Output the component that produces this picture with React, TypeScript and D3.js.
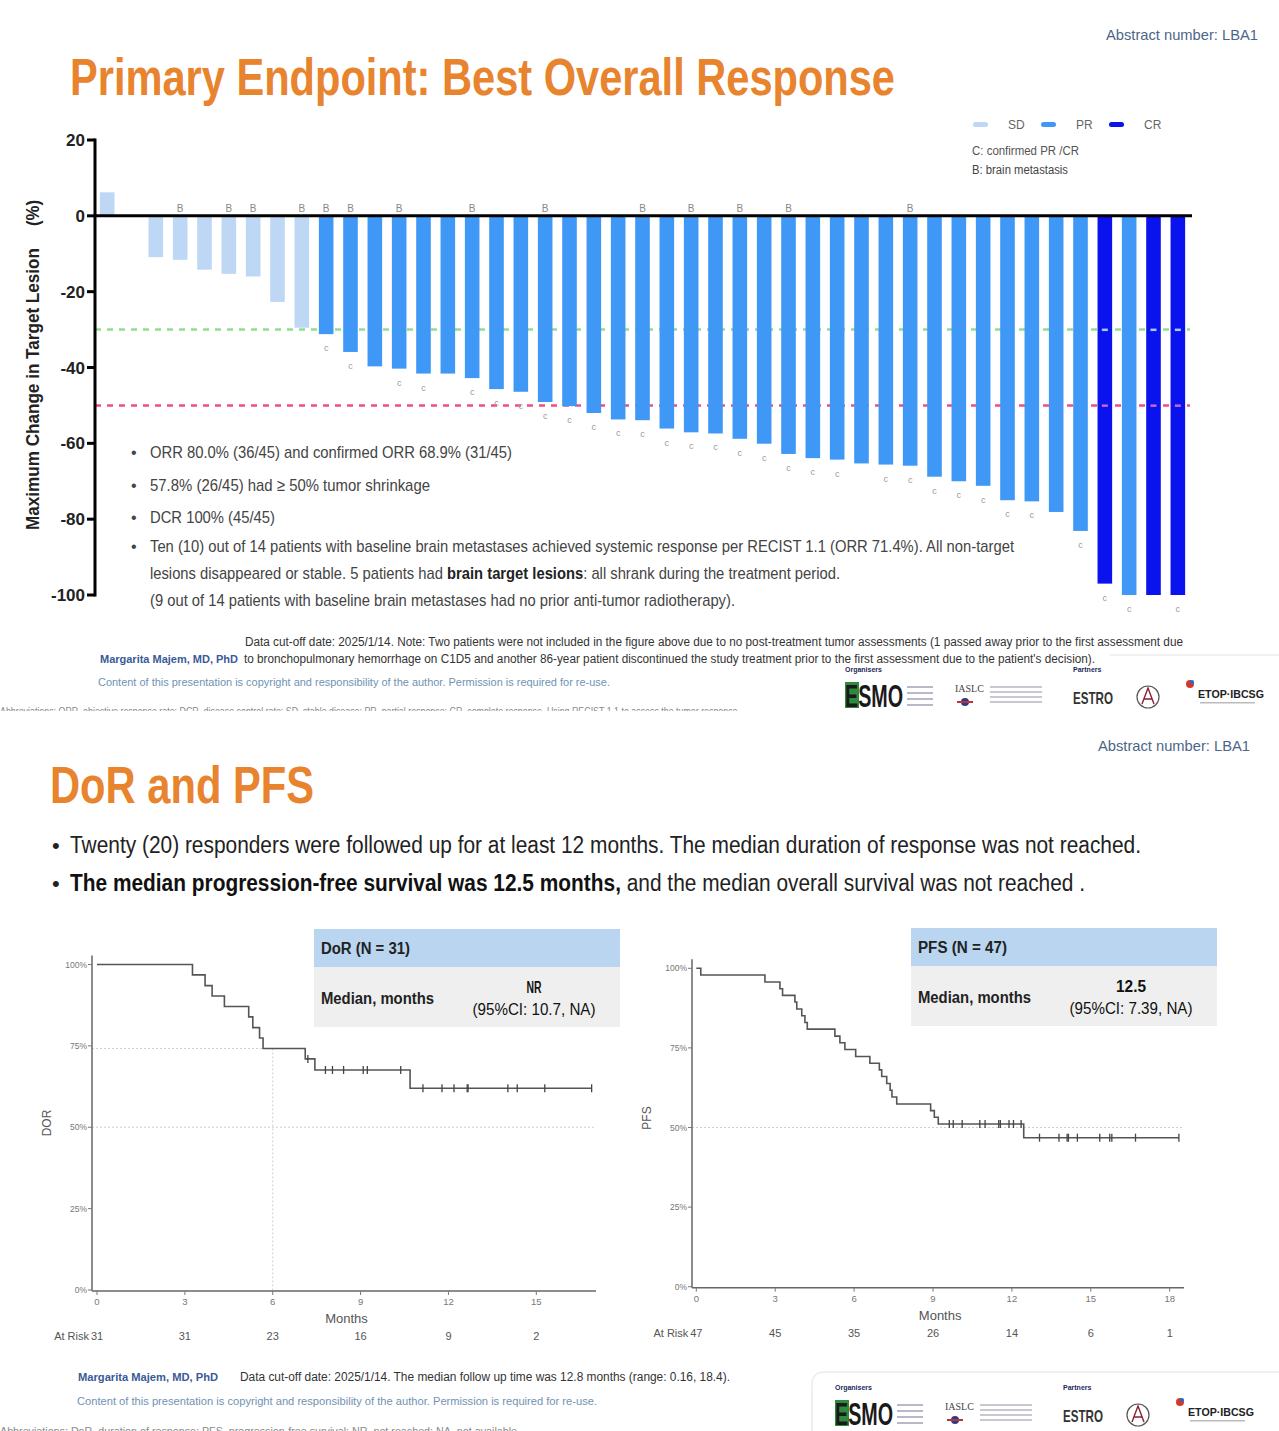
import React from "react";
import * as d3 from "d3";

// ---------- waterfall data (best % change from baseline, one entry per patient) ----------
const changes = [
  6.2, 0, -10.9, -11.6, -14.2, -15.3, -16.0, -22.7, -29.5,
  -31.2, -35.9, -39.7, -40.3, -41.6, -41.6, -42.8, -45.7, -46.4, -49.1,
  -50.2, -52.0, -53.7, -53.9, -56.1, -57.1, -57.4, -58.8, -60.1, -62.8,
  -63.9, -64.3, -65.3, -65.6, -65.9, -68.8, -70.0, -71.2, -75.0, -75.3,
  -78.1, -83.1, -97.0, -100, -100, -100,
];
const responses = [
  "SD", "SD", "SD", "SD", "SD", "SD", "SD", "SD", "SD",
  "PR", "PR", "PR", "PR", "PR", "PR", "PR", "PR", "PR", "PR",
  "PR", "PR", "PR", "PR", "PR", "PR", "PR", "PR", "PR", "PR",
  "PR", "PR", "PR", "PR", "PR", "PR", "PR", "PR", "PR", "PR",
  "PR", "PR", "CR", "PR", "CR", "CR",
];
const confirmedIdx = [
  9, 10, 12, 13, 15, 16, 17, 18, 19, 20, 21, 22, 23, 24, 25, 26, 27, 28, 29, 30,
  32, 33, 34, 35, 36, 37, 38, 40, 41, 42, 44,
];
const brainIdx = [3, 5, 6, 8, 9, 10, 12, 15, 18, 22, 24, 26, 28, 33];
const yTicks = [20, 0, -20, -40, -60, -80, -100];
const responseColor: Record<string, string> = { SD: "#bdd7f4", PR: "#3f98f6", CR: "#0a12ee" };

// ---------- DoR ----------
const dorEventTimes = [3.26, 3.69, 3.93, 4.35, 5.18, 5.32, 5.55, 5.67, 7.11, 7.44, 10.69];
const dorSurv = [96.8, 93.5, 90.3, 87.1, 83.9, 80.6, 77.4, 74.2, 71.0, 67.6, 62.0];
const dorCensor = [7.2, 7.8, 8.04, 8.42, 9.09, 9.23, 10.37, 11.13, 11.78, 12.19, 12.64, 12.67, 14.03, 14.35, 15.29, 16.89];
const dorXTicks = [0, 3, 6, 9, 12, 15];
const dorRisk = [31, 31, 23, 16, 9, 2];

// ---------- PFS ----------
const pfsEventTimes = [
  0.17, 2.61, 3.18, 3.28, 3.75, 3.82, 4.01, 4.13, 4.22, 5.27, 5.46, 5.65,
  6.06, 6.6, 6.96, 7.05, 7.24, 7.37, 7.44, 7.62, 8.91, 9.05, 9.2, 12.45,
];
const pfsSurv = [
  97.9, 95.7, 93.6, 91.5, 89.4, 87.2, 85.1, 83.0, 80.9, 78.7, 76.6, 74.5,
  72.3, 70.2, 68.1, 66.0, 63.8, 61.7, 59.6, 57.4, 55.3, 53.2, 51.1, 46.8,
];
const pfsCensor = [
  9.62, 9.77, 10.11, 10.78, 10.98, 11.5, 11.56, 11.89, 12.06, 12.35,
  13.05, 13.79, 14.1, 14.15, 14.49, 15.34, 15.72, 15.8, 16.7, 18.35,
];
const pfsXTicks = [0, 3, 6, 9, 12, 15, 18];
const pfsRisk = [47, 45, 35, 26, 14, 6, 1];

const pctTicks = [0, 25, 50, 75, 100];

const NARROW = "'Liberation Sans Narrow','Arial Narrow','Liberation Sans',Arial,sans-serif";

type TxtProps = {
  x: number;
  y: number;
  size: number;
  w?: number;
  anchor?: "start" | "middle" | "end";
  weight?: string;
  fill?: string;
  transform?: string;
  children: React.ReactNode;
};

const Txt = ({ x, y, size, w, anchor = "start", weight = "normal", fill = "#333", transform, children }: TxtProps) => (
  <text
    x={x}
    y={y}
    fontSize={size}
    fontFamily={NARROW}
    fontWeight={weight}
    fill={fill}
    textAnchor={anchor}
    textLength={w}
    lengthAdjust={w ? "spacingAndGlyphs" : undefined}
    transform={transform}
  >
    {children}
  </text>
);

const survAt = (times: number[], surv: number[], t: number) => {
  let s = 100;
  times.forEach((et, i) => {
    if (et <= t) s = surv[i];
  });
  return s;
};

type KMProps = {
  times: number[];
  surv: number[];
  censor: number[];
  end: number;
  x: d3.ScaleLinear<number, number>;
  y: d3.ScaleLinear<number, number>;
};

const KMCurve = ({ times, surv, censor, end, x, y }: KMProps) => {
  const pts: [number, number][] = [[0, 100], ...times.map((t, i) => [t, surv[i]] as [number, number]), [end, surv[surv.length - 1]]];
  const line = d3
    .line<[number, number]>()
    .x((d) => x(d[0]))
    .y((d) => y(d[1]))
    .curve(d3.curveStepAfter);
  return (
    <g>
      <path d={line(pts) ?? ""} fill="none" stroke="#555" strokeWidth={1.6} />
      {censor.map((c, i) => {
        const cy = y(survAt(times, surv, c));
        return <line key={i} x1={x(c)} x2={x(c)} y1={cy - 4} y2={cy + 4} stroke="#444" strokeWidth={1.3} />;
      })}
    </g>
  );
};

type PanelProps = {
  x: d3.ScaleLinear<number, number>;
  y: d3.ScaleLinear<number, number>;
  axisX: number;
  axisEnd: number;
  ticks: number[];
  risk: number[];
  label: string;
  labelX: number;
  labelY: number;
};

const KMAxes = ({ x, y, axisX, axisEnd, ticks, risk, label, labelX, labelY }: PanelProps) => {
  const y0 = y(0) + 1;
  return (
    <g>
      <line x1={axisX} x2={axisX} y1={y(100) - 9} y2={y0} stroke="#666" strokeWidth={1.5} />
      <line x1={axisX} x2={axisEnd} y1={y0} y2={y0} stroke="#666" strokeWidth={1.5} />
      {pctTicks.map((p) => (
        <g key={p}>
          <line x1={axisX - 4} x2={axisX} y1={y(p)} y2={y(p)} stroke="#777" strokeWidth={1} />
          <Txt x={axisX - 5} y={y(p) + 3} size={8.5} anchor="end" fill="#777">
            {p}%
          </Txt>
        </g>
      ))}
      {ticks.map((t, i) => (
        <g key={t}>
          <line x1={x(t)} x2={x(t)} y1={y0} y2={y0 + 4} stroke="#777" strokeWidth={1} />
          <Txt x={x(t)} y={y0 + 14} size={9.5} anchor="middle" fill="#777">
            {t}
          </Txt>
          <Txt x={x(t)} y={y0 + 49} size={11} anchor="middle" fill="#555">
            {risk[i]}
          </Txt>
        </g>
      ))}
      <Txt x={x(0) - 8} y={y0 + 49} size={11} anchor="end" fill="#555">
        At Risk
      </Txt>
      <Txt x={(x(0) + axisEnd) / 2} y={y0 + 32} size={13} anchor="middle" fill="#555">
        Months
      </Txt>
      <Txt x={0} y={0} size={12} anchor="middle" fill="#555" transform={`translate(${labelX},${labelY}) rotate(-90)`}>
        {label}
      </Txt>
    </g>
  );
};

const InfoBox = ({ x, y, title, value, ci }: { x: number; y: number; title: string; value: string; ci: string }) => (
  <g>
    <rect x={x} y={y} width={306} height={38} fill="#b9d5ef" />
    <rect x={x} y={y + 38} width={306} height={60} fill="#efefef" />
    <Txt x={x + 7} y={y + 25} size={16} weight="bold" fill="#222" w={89}>
      {title}
    </Txt>
    <Txt x={x + 7} y={y + 75} size={16} weight="bold" fill="#222" w={113}>
      Median, months
    </Txt>
    <Txt x={x + 220} y={y + 64} size={16} anchor="middle" fill="#111" weight="bold" w={value.length * 7.5}>
      {value}
    </Txt>
    <Txt x={x + 220} y={y + 86} size={16} anchor="middle" fill="#111" w={123}>
      {ci}
    </Txt>
  </g>
);

const Logos = ({ dx, dy }: { dx: number; dy: number }) => (
  <g transform={`translate(${dx},${dy})`}>
    <Txt x={0} y={0} size={7} weight="bold" fill="#1d2b5c">
      Organisers
    </Txt>
    <rect x={0} y={10} width={14} height={26} fill="#2d8a3e" />
    <Txt x={0} y={35} size={31} weight="bold" fill="#1a1a1a" w={58}>
      ESMO
    </Txt>
    {[14, 20, 26, 32].map((ly) => (
      <rect key={ly} x={62} y={ly} width={26} height={2} fill="#b8b8c8" />
    ))}
    <text x={110} y={20} fontSize={10} fontFamily="'Liberation Serif',serif" fill="#444">
      IASLC
    </text>
    <circle cx={120} cy={30} r={4} fill="#2a3c8c" />
    <rect x={112} y={29} width={16} height={2} fill="#c03030" />
    {[14, 19, 24, 29].map((ly) => (
      <rect key={ly} x={145} y={ly} width={52} height={2} fill="#c8c8d0" />
    ))}
    <Txt x={228} y={0} size={7} weight="bold" fill="#1d2b5c">
      Partners
    </Txt>
    <Txt x={228} y={32} size={17} weight="bold" fill="#333" w={40}>
      ESTRO
    </Txt>
    <circle cx={303} cy={25} r={11} fill="none" stroke="#555" strokeWidth={1.2} />
    <path d="M297,32 L303,16 L309,32 M299,27 L307,27" fill="none" stroke="#8a2030" strokeWidth={1.4} />
    <circle cx={345} cy={12} r={4} fill="#d03a2a" />
    <circle cx={347} cy={10} r={2} fill="#2a6ad0" />
    <Txt x={353} y={26} size={11} weight="bold" fill="#222" w={66}>
      ETOP·IBCSG
    </Txt>
    <rect x={355} y={30} width={55} height={1.5} fill="#bbb" />
  </g>
);

export default function App() {
  // waterfall scales
  const xb = d3.scaleBand<number>().domain(d3.range(changes.length)).range([95, 1190]).paddingInner(0.4).paddingOuter(0.2);
  const yw = d3.scaleLinear().domain([20, -100]).range([140, 595]);

  // KM scales
  const dx = d3.scaleLinear().domain([0, 15]).range([97, 536.3]);
  const dy = d3.scaleLinear().domain([0, 100]).range([1290, 964.5]);
  const px = d3.scaleLinear().domain([0, 18]).range([696.3, 1169.7]);
  const py = d3.scaleLinear().domain([0, 100]).range([1286.7, 968.3]);

  const cx = (i: number) => (xb(i) ?? 0) + xb.bandwidth() / 2;

  return (
    <div style={{ position: "absolute", left: 0, top: 0 }}>
      <svg width={1279} height={1431} viewBox="0 0 1279 1431" style={{ display: "block", background: "#fff" }}>
        {/* ================= slide 1 ================= */}
        <Txt x={1106} y={40} size={15} fill="#4c6688" w={152}>
          Abstract number: LBA1
        </Txt>
        <Txt x={70} y={95} size={52} weight="bold" fill="#e8832e" w={825}>
          Primary Endpoint: Best Overall Response
        </Txt>

        {/* legend */}
        {["SD", "PR", "CR"].map((r, i) => (
          <g key={r}>
            <rect x={973 + i * 68} y={122} width={15} height={5} rx={2.5} fill={responseColor[r]} />
            <Txt x={1008 + i * 68} y={129} size={12} fill="#666">
              {r}
            </Txt>
          </g>
        ))}
        <Txt x={972} y={155} size={12} fill="#555" w={107}>
          C: confirmed PR /CR
        </Txt>
        <Txt x={972} y={174} size={12} fill="#444" w={96}>
          B: brain metastasis
        </Txt>

        {/* reference lines */}
        <line x1={95} x2={1190} y1={yw(-30)} y2={yw(-30)} stroke="#8fe08c" strokeWidth={2.5} strokeDasharray="6 6" />
        <line x1={95} x2={1190} y1={yw(-50)} y2={yw(-50)} stroke="#f04d86" strokeWidth={2.5} strokeDasharray="6 6" />

        {/* bars */}
        {changes.map((v, i) => (
          <rect
            key={i}
            x={xb(i)}
            y={Math.min(yw(v), yw(0))}
            width={xb.bandwidth()}
            height={Math.abs(yw(v) - yw(0))}
            fill={responseColor[responses[i]]}
          />
        ))}
        {/* dashes showing through the CR bars */}
        {changes.map((v, i) =>
          responses[i] === "CR" ? (
            <g key={`d${i}`}>
              <rect x={cx(i) - 3} y={yw(-30) - 1} width={6} height={2.5} fill="#a9c9f0" />
              <rect x={cx(i) - 3} y={yw(-50) - 1} width={6} height={2.5} fill="#c06ad0" />
            </g>
          ) : null
        )}
        {brainIdx.map((i) => (
          <Txt key={`b${i}`} x={cx(i)} y={212} size={10} anchor="middle" fill="#888">
            B
          </Txt>
        ))}
        {confirmedIdx.map((i) => (
          <Txt key={`c${i}`} x={cx(i)} y={yw(changes[i]) + 17} size={9} anchor="middle" fill="#999">
            c
          </Txt>
        ))}

        {/* axes */}
        <line x1={95} x2={1192} y1={yw(0)} y2={yw(0)} stroke="#000" strokeWidth={3} />
        <line x1={95} x2={95} y1={yw(20) - 1.5} y2={yw(-100) + 1.5} stroke="#000" strokeWidth={3} />
        {yTicks.map((t) => (
          <g key={t}>
            <line x1={87} x2={95} y1={yw(t)} y2={yw(t)} stroke="#000" strokeWidth={3} />
            <Txt x={85} y={yw(t) + 6} size={17} anchor="end" weight="bold" fill="#222">
              {t}
            </Txt>
          </g>
        ))}
        <Txt x={0} y={0} size={18} weight="bold" fill="#222" w={282} transform="translate(39,530) rotate(-90)">
          Maximum Change in Target Lesion
        </Txt>
        <Txt x={0} y={0} size={18} weight="bold" fill="#222" w={26} transform="translate(39,226) rotate(-90)">
          (%)
        </Txt>

        {/* bullets */}
        {[458, 491, 523, 552].map((by) => (
          <Txt key={by} x={131} y={by} size={16} fill="#444">
            •
          </Txt>
        ))}
        <Txt x={150} y={458} size={17} fill="#444" w={362}>
          ORR 80.0% (36/45) and confirmed ORR 68.9% (31/45)
        </Txt>
        <Txt x={150} y={491} size={17} fill="#444" w={280}>
          57.8% (26/45) had ≥ 50% tumor shrinkage
        </Txt>
        <Txt x={150} y={523} size={17} fill="#444" w={125}>
          DCR 100% (45/45)
        </Txt>
        <Txt x={150} y={552} size={17} fill="#444" w={864}>
          Ten (10) out of 14 patients with baseline brain metastases achieved systemic response per RECIST 1.1 (ORR 71.4%). All non-target
        </Txt>
        <Txt x={150} y={579} size={17} fill="#444" w={690}>
          lesions disappeared or stable. 5 patients had <tspan fontWeight="bold" fill="#222">brain target lesions</tspan>: all shrank during the
          treatment period.
        </Txt>
        <Txt x={150} y={606} size={17} fill="#444" w={585}>
          (9 out of 14 patients with baseline brain metastases had no prior anti-tumor radiotherapy).
        </Txt>

        {/* footer slide 1 */}
        <Txt x={245} y={646} size={12} fill="#333" w={938}>
          Data cut-off date: 2025/1/14. Note: Two patients were not included in the figure above due to no post-treatment tumor assessments (1 passed away prior to the first assessment due
        </Txt>
        <Txt x={100} y={663} size={11} weight="bold" fill="#3a5a98" w={138}>
          Margarita Majem, MD, PhD
        </Txt>
        <Txt x={244} y={663} size={12} fill="#333" w={851}>
          to bronchopulmonary hemorrhage on C1D5 and another 86-year patient discontinued the study treatment prior to the first assessment due to the patient's decision).
        </Txt>
        <Txt x={98} y={686} size={11} fill="#7093b2" w={512}>
          Content of this presentation is copyright and responsibility of the author. Permission is required for re-use.
        </Txt>
        <path d="M1110,655 L1279,655" fill="none" stroke="#ececec" strokeWidth={1.5} />
        <Logos dx={845} dy={672} />
        <Txt x={0} y={715} size={11} fill="#8a8a8a" w={740}>
          Abbreviations: ORR, objective response rate; DCR, disease control rate; SD, stable disease; PR, partial response; CR, complete response. Using RECIST 1.1 to assess the tumor response.
        </Txt>
        <rect x={0} y={711} width={1279} height={14} fill="#fff" />

        {/* ================= slide 2 ================= */}
        <Txt x={1098} y={751} size={15} fill="#4c6688" w={152}>
          Abstract number: LBA1
        </Txt>
        <Txt x={50} y={803} size={52} weight="bold" fill="#e8832e" w={264}>
          DoR and PFS
        </Txt>
        <Txt x={52} y={853} size={22} fill="#222">
          •
        </Txt>
        <Txt x={70} y={853} size={23} fill="#222" w={1071}>
          Twenty (20) responders were followed up for at least 12 months. The median duration of response was not reached.
        </Txt>
        <Txt x={52} y={891} size={22} fill="#222">
          •
        </Txt>
        <Txt x={70} y={891} size={23} fill="#222" w={1015}>
          <tspan fontWeight="bold" fill="#111">The median progression-free survival was 12.5 months,</tspan> and the median overall survival was not reached .
        </Txt>

        {/* DoR panel */}
        <line x1={92} x2={dx(6)} y1={dy(74.2)} y2={dy(74.2)} stroke="#cfcfcf" strokeWidth={1} strokeDasharray="2 2" />
        <line x1={dx(6)} x2={dx(6)} y1={dy(74.2)} y2={dy(0)} stroke="#cfcfcf" strokeWidth={1} strokeDasharray="2 2" />
        <line x1={92} x2={596} y1={dy(50)} y2={dy(50)} stroke="#cfcfcf" strokeWidth={1} strokeDasharray="2 2" />
        <KMAxes x={dx} y={dy} axisX={92} axisEnd={596} ticks={dorXTicks} risk={dorRisk} label="DOR" labelX={51} labelY={1123} />
        <KMCurve times={dorEventTimes} surv={dorSurv} censor={dorCensor} end={16.89} x={dx} y={dy} />
        <InfoBox x={314} y={929} title="DoR (N = 31)" value="NR" ci="(95%CI: 10.7, NA)" />

        {/* PFS panel */}
        <line x1={692} x2={1184} y1={py(50)} y2={py(50)} stroke="#cfcfcf" strokeWidth={1} strokeDasharray="2 2" />
        <KMAxes x={px} y={py} axisX={692} axisEnd={1184} ticks={pfsXTicks} risk={pfsRisk} label="PFS" labelX={651} labelY={1118} />
        <KMCurve times={pfsEventTimes} surv={pfsSurv} censor={pfsCensor} end={18.35} x={px} y={py} />
        <InfoBox x={911} y={928} title="PFS (N = 47)" value="12.5" ci="(95%CI: 7.39, NA)" />

        {/* footer slide 2 */}
        <Txt x={78} y={1381} size={11} weight="bold" fill="#3a5a98" w={140}>
          Margarita Majem, MD, PhD
        </Txt>
        <Txt x={240} y={1381} size={12} fill="#333" w={490}>
          Data cut-off date: 2025/1/14. The median follow up time was 12.8 months (range: 0.16, 18.4).
        </Txt>
        <Txt x={77} y={1405} size={11} fill="#7093b2" w={520}>
          Content of this presentation is copyright and responsibility of the author. Permission is required for re-use.
        </Txt>
        <path d="M812,1431 L812,1385 Q812,1372 825,1372 L1279,1372" fill="none" stroke="#ececec" strokeWidth={1.5} />
        <Logos dx={835} dy={1390} />
        <Txt x={0} y={1435} size={11} fill="#8a8a8a" w={520}>
          Abbreviations: DoR, duration of response; PFS, progression-free survival; NR, not reached; NA, not available.
        </Txt>
      </svg>
    </div>
  );
}
